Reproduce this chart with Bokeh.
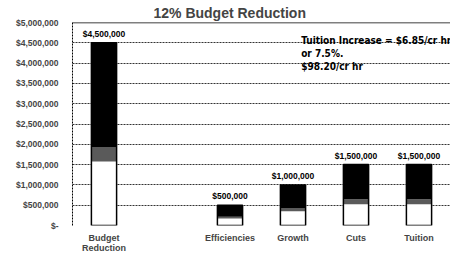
from bokeh.plotting import figure
from bokeh.models import FactorRange, FixedTicker, Span, ColumnDataSource
from bokeh.core.properties import value
from bokeh.embed import file_html
from bokeh.resources import INLINE

categories = ["Budget\nReduction", " ", "Efficiencies", "Growth", "Cuts", "Tuition"]
amounts = [4500000, None, 500000, 1000000, 1500000, 1500000]
amount_labels = ["$4,500,000", "", "$500,000", "$1,000,000", "$1,500,000", "$1,500,000"]
y_ticks = [0, 500000, 1000000, 1500000, 2000000, 2500000, 3000000, 3500000, 4000000, 4500000, 5000000]
y_tick_labels = ["$-", "$500,000", "$1,000,000", "$1,500,000", "$2,000,000", "$2,500,000",
                 "$3,000,000", "$3,500,000", "$4,000,000", "$4,500,000", "$5,000,000"]
note = "Tuition Increase = $6.85/cr hr\nor 7.5%.\n$98.20/cr hr"

FONT = "Liberation Sans"

p = figure(x_range=FactorRange(*categories), y_range=(0, 5000000),
           width=450, height=255, output_backend="svg", toolbar_location=None,
           min_border_left=72, min_border_right=0, min_border_bottom=29, min_border_top=0)
p.title.text = "12% Budget Reduction"
p.title.align = "left"
p.title.text_font = FONT
p.title.text_font_size = "14px"
p.title.text_font_style = "bold"
p.title.offset = 81
p.title.standoff = 4
p.outline_line_color = None
p.background_fill_color = "white"

xs = [c for c, a in zip(categories, amounts) if a is not None]
vals = [a for a in amounts if a is not None]
labs = [l for l, a in zip(amount_labels, amounts) if a is not None]
src = ColumnDataSource(dict(
    x=xs, v=vals, lab=labs,
    w_top=[v * 0.35 for v in vals],
    g_top=[v * 0.43 for v in vals],
))
W = 0.4
p.vbar(x="x", bottom=0, top="w_top", width=W, source=src, fill_color="white", line_color=None)
p.vbar(x="x", bottom="w_top", top="g_top", width=W, source=src, fill_color="#5a5a5a", line_color=None)
p.vbar(x="x", bottom="g_top", top="v", width=W, source=src, fill_color="black", line_color=None)
p.vbar(x="x", bottom=0, top="v", width=W, source=src, fill_color=None, line_color="black", line_width=1.5)
p.text(x="x", y="v", text="lab", source=src, text_align="center", text_baseline="bottom",
       y_offset=-4, text_font=value(FONT), text_font_size="8.5px", text_font_style="bold",
       text_color="black")

p.text(x=[3.63], y=[4500000], text=[note], text_align="left", text_baseline="top",
       y_offset=-8,
       text_font=value("Liberation Sans Narrow, DejaVu Sans Condensed, Liberation Sans"),
       text_font_size="10px", text_font_style="bold", text_color="black", text_line_height=1.2)

p.yaxis.ticker = FixedTicker(ticks=y_ticks)
p.yaxis.major_label_overrides = {t: l for t, l in zip(y_ticks, y_tick_labels)}
p.yaxis.major_label_text_font = FONT
p.yaxis.major_label_text_font_size = "8.5px"
p.yaxis.major_label_text_font_style = "bold"
p.yaxis.major_label_standoff = 8
p.yaxis.major_tick_line_color = None
p.yaxis.minor_tick_line_color = None
p.yaxis.axis_line_color = "black"
p.yaxis.axis_line_dash = "2 1"

p.xaxis.major_tick_line_color = None
p.xaxis.axis_line_color = None
p.xaxis.major_label_text_font = FONT
p.xaxis.major_label_text_font_size = "9px"
p.xaxis.major_label_text_font_style = "bold"
p.xaxis.major_label_text_line_height = 1.0
p.xaxis.major_label_standoff = 1

p.xgrid.grid_line_color = None
p.ygrid.grid_line_color = "black"
p.ygrid.grid_line_dash = "2 1"
p.ygrid.grid_line_width = 1
p.ygrid.grid_line_alpha = 0.8

p.add_layout(Span(location=y_ticks[-1], dimension="width", line_color="black", line_width=1.5))

open("out.html", "w").write(file_html(p, INLINE))
